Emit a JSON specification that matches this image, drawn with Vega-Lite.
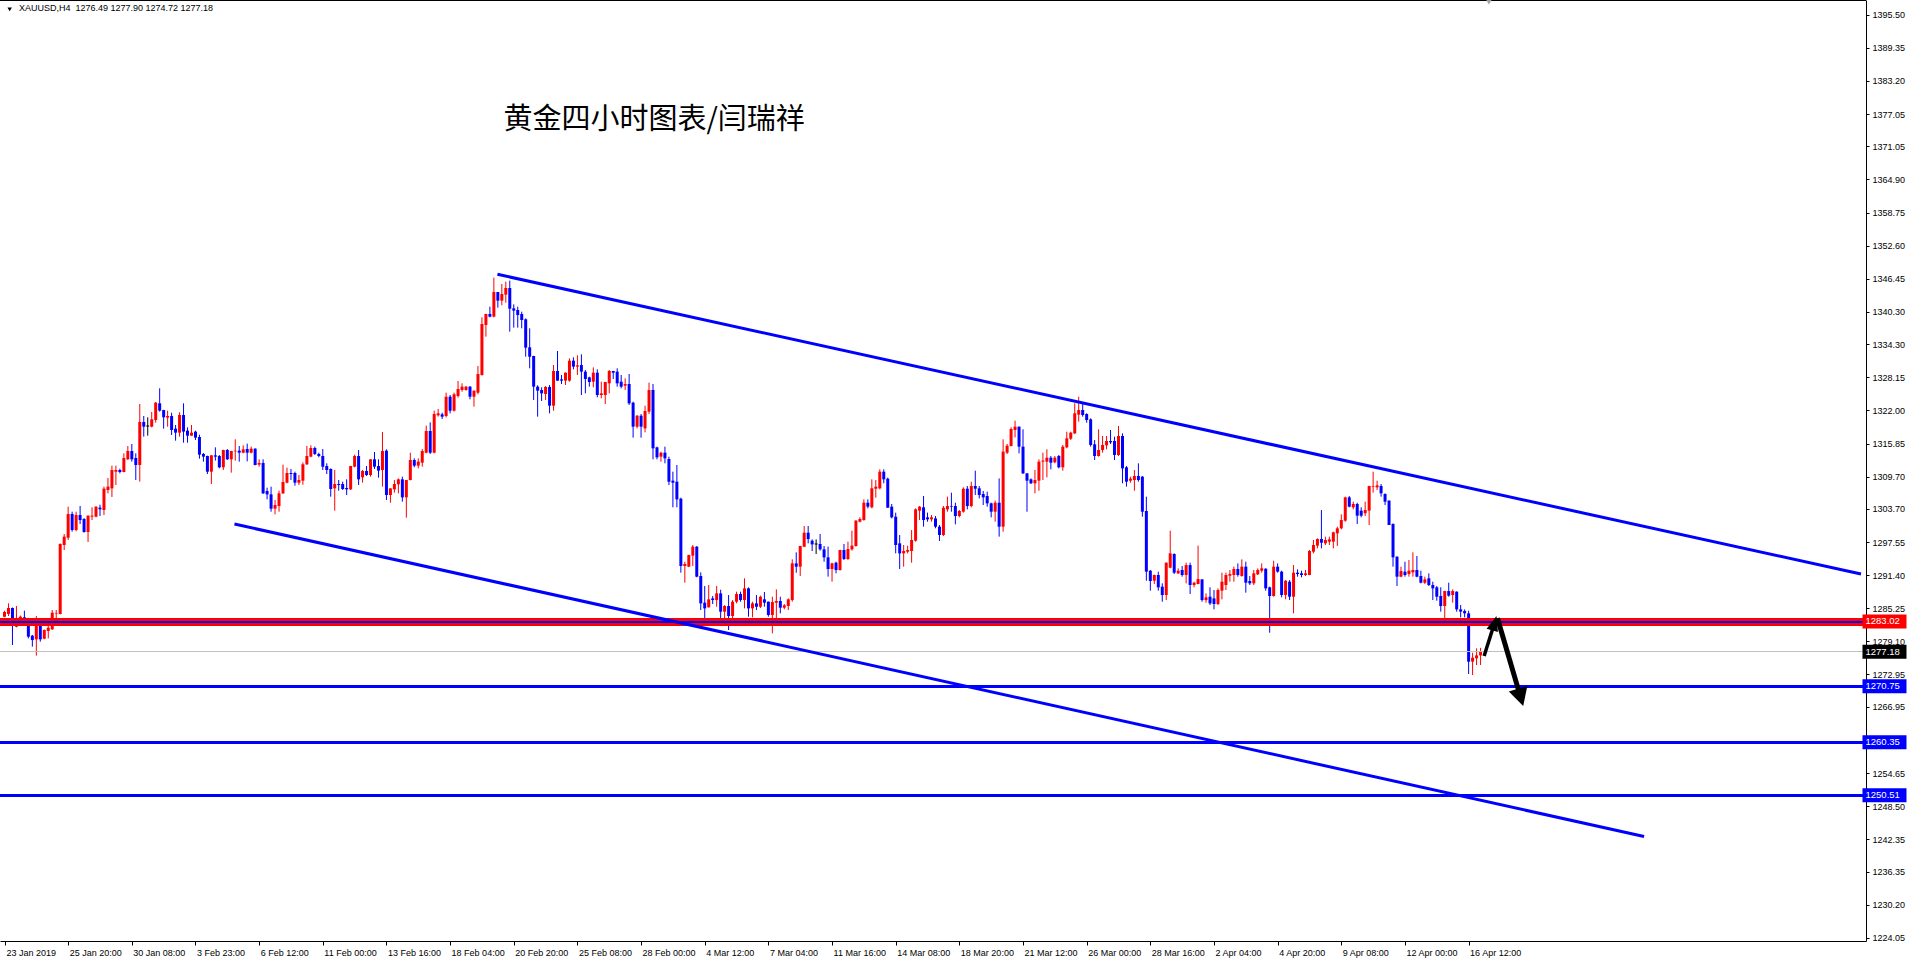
{
"$schema":"https://vega.github.io/schema/vega-lite/v6.json",
"width":1866,"height":941,
"autosize":{"type":"none"},
"padding":{"left":0,"top":0,"right":48,"bottom":20},
"background":"white",
"config":{"view":{"stroke":null},"axis":{"grid":false,"labelOverlap":false,"labelFont":"Liberation Sans","labelFontSize":9,"labelColor":"#000000","tickColor":"#000000","domainColor":"#000000"}},
"datasets":{"candles":[
{"k":-1,"o":1283.69,"h":1284.8,"l":1283.6,"c":1284.56},
{"k":0,"o":1284.19,"h":1286.17,"l":1283.81,"c":1285.3},
{"k":1,"o":1285.3,"h":1285.4,"l":1278.43,"c":1281.96},
{"k":2,"o":1281.83,"h":1285.67,"l":1281.71,"c":1283.38},
{"k":3,"o":1282.95,"h":1283.9,"l":1282.8,"c":1283.69},
{"k":4,"o":1283.57,"h":1284.8,"l":1282.45,"c":1283.19},
{"k":5,"o":1282.45,"h":1282.5,"l":1279.66,"c":1279.97},
{"k":6,"o":1280.16,"h":1280.3,"l":1278.12,"c":1279.35},
{"k":7,"o":1279.48,"h":1283.81,"l":1276.45,"c":1282.45},
{"k":8,"o":1281.96,"h":1282.1,"l":1279.05,"c":1279.48},
{"k":9,"o":1279.6,"h":1281.3,"l":1279.5,"c":1281.22},
{"k":10,"o":1281.03,"h":1282.45,"l":1279.66,"c":1281.65},
{"k":11,"o":1281.34,"h":1284.93,"l":1281.22,"c":1284.43},
{"k":12,"o":1284.2,"h":1284.93,"l":1283.19,"c":1284.3},
{"k":13,"o":1284.19,"h":1297.3,"l":1284.1,"c":1297.19},
{"k":14,"o":1297.0,"h":1299.05,"l":1296.07,"c":1298.55},
{"k":15,"o":1298.36,"h":1304.12,"l":1297.93,"c":1302.76},
{"k":16,"o":1302.76,"h":1303.19,"l":1299.48,"c":1299.79},
{"k":17,"o":1299.79,"h":1303.19,"l":1299.54,"c":1302.57},
{"k":18,"o":1302.57,"h":1304.25,"l":1300.9,"c":1301.65},
{"k":19,"o":1301.83,"h":1302.0,"l":1299.3,"c":1299.42},
{"k":20,"o":1299.42,"h":1302.5,"l":1297.56,"c":1302.45},
{"k":21,"o":1302.27,"h":1304.0,"l":1301.65,"c":1302.45},
{"k":22,"o":1302.27,"h":1304.2,"l":1302.14,"c":1304.12},
{"k":23,"o":1303.94,"h":1304.49,"l":1302.39,"c":1303.63},
{"k":24,"o":1303.5,"h":1307.84,"l":1302.57,"c":1307.47},
{"k":25,"o":1307.22,"h":1309.45,"l":1306.6,"c":1307.84},
{"k":26,"o":1307.53,"h":1311.74,"l":1305.92,"c":1310.93},
{"k":27,"o":1310.62,"h":1311.74,"l":1308.15,"c":1310.93},
{"k":28,"o":1310.93,"h":1311.18,"l":1310.31,"c":1310.56},
{"k":29,"o":1310.56,"h":1314.03,"l":1310.5,"c":1313.16},
{"k":30,"o":1312.92,"h":1315.39,"l":1312.79,"c":1314.46},
{"k":31,"o":1314.46,"h":1315.76,"l":1312.48,"c":1312.92},
{"k":32,"o":1313.16,"h":1314.03,"l":1309.08,"c":1311.86},
{"k":33,"o":1311.86,"h":1323.19,"l":1308.77,"c":1319.85},
{"k":34,"o":1319.85,"h":1320.96,"l":1317.13,"c":1318.98},
{"k":35,"o":1319.1,"h":1320.72,"l":1317.31,"c":1319.1},
{"k":36,"o":1318.98,"h":1321.71,"l":1318.86,"c":1320.35},
{"k":37,"o":1320.22,"h":1323.57,"l":1319.73,"c":1323.44},
{"k":38,"o":1323.32,"h":1326.1,"l":1321.77,"c":1321.96},
{"k":39,"o":1322.08,"h":1322.1,"l":1318.61,"c":1320.72},
{"k":40,"o":1320.66,"h":1321.96,"l":1318.98,"c":1320.96},
{"k":41,"o":1320.96,"h":1321.58,"l":1317.44,"c":1318.36},
{"k":42,"o":1318.61,"h":1319.29,"l":1316.38,"c":1317.87},
{"k":43,"o":1317.87,"h":1321.65,"l":1317.13,"c":1321.15},
{"k":44,"o":1321.15,"h":1323.32,"l":1316.01,"c":1318.06},
{"k":45,"o":1318.24,"h":1318.86,"l":1316.01,"c":1317.31},
{"k":46,"o":1317.31,"h":1319.29,"l":1317.3,"c":1317.87},
{"k":47,"o":1318.06,"h":1318.24,"l":1316.51,"c":1316.94},
{"k":48,"o":1317.06,"h":1317.5,"l":1313.04,"c":1313.78},
{"k":49,"o":1313.91,"h":1314.09,"l":1312.48,"c":1313.41},
{"k":50,"o":1313.53,"h":1313.6,"l":1310.19,"c":1310.62},
{"k":51,"o":1310.62,"h":1313.7,"l":1308.33,"c":1313.66},
{"k":52,"o":1313.66,"h":1315.14,"l":1312.67,"c":1313.41},
{"k":53,"o":1313.53,"h":1313.72,"l":1311.24,"c":1311.43},
{"k":54,"o":1311.43,"h":1314.7,"l":1310.93,"c":1314.65},
{"k":55,"o":1314.65,"h":1314.83,"l":1312.79,"c":1312.92},
{"k":56,"o":1312.92,"h":1314.5,"l":1310.44,"c":1314.46},
{"k":57,"o":1314.4,"h":1316.63,"l":1312.67,"c":1314.52},
{"k":58,"o":1314.52,"h":1315.39,"l":1312.48,"c":1314.15},
{"k":59,"o":1314.15,"h":1315.52,"l":1314.03,"c":1314.77},
{"k":60,"o":1314.83,"h":1315.83,"l":1312.54,"c":1314.15},
{"k":61,"o":1314.15,"h":1315.27,"l":1314.03,"c":1314.9},
{"k":62,"o":1314.9,"h":1314.95,"l":1311.8,"c":1311.86},
{"k":63,"o":1311.93,"h":1312.92,"l":1311.55,"c":1312.24},
{"k":64,"o":1312.24,"h":1312.92,"l":1306.48,"c":1306.6},
{"k":65,"o":1307.03,"h":1307.65,"l":1305.49,"c":1306.41},
{"k":66,"o":1306.41,"h":1307.84,"l":1303.19,"c":1303.75},
{"k":67,"o":1303.75,"h":1305.36,"l":1302.7,"c":1304.43},
{"k":68,"o":1304.25,"h":1307.09,"l":1303.19,"c":1306.6},
{"k":69,"o":1306.6,"h":1311.93,"l":1306.48,"c":1308.71},
{"k":70,"o":1308.58,"h":1311.37,"l":1308.46,"c":1310.38},
{"k":71,"o":1310.38,"h":1311.12,"l":1309.08,"c":1310.19},
{"k":72,"o":1310.38,"h":1310.62,"l":1308.02,"c":1308.58},
{"k":73,"o":1308.58,"h":1310.0,"l":1308.15,"c":1309.08},
{"k":74,"o":1308.95,"h":1312.36,"l":1308.21,"c":1311.99},
{"k":75,"o":1311.99,"h":1315.39,"l":1311.86,"c":1313.53},
{"k":76,"o":1313.41,"h":1315.52,"l":1313.29,"c":1315.02},
{"k":77,"o":1315.02,"h":1315.27,"l":1313.72,"c":1313.91},
{"k":78,"o":1313.91,"h":1314.15,"l":1313.29,"c":1313.53},
{"k":79,"o":1313.53,"h":1314.83,"l":1310.93,"c":1311.55},
{"k":80,"o":1311.68,"h":1312.17,"l":1310.19,"c":1310.93},
{"k":81,"o":1311.12,"h":1311.24,"l":1305.98,"c":1307.4},
{"k":82,"o":1307.53,"h":1310.93,"l":1303.38,"c":1308.33},
{"k":83,"o":1308.33,"h":1309.08,"l":1307.09,"c":1308.15},
{"k":84,"o":1308.33,"h":1308.77,"l":1307.22,"c":1307.4},
{"k":85,"o":1307.59,"h":1309.2,"l":1306.29,"c":1307.34},
{"k":86,"o":1307.34,"h":1311.7,"l":1307.22,"c":1311.68},
{"k":87,"o":1311.55,"h":1313.78,"l":1311.43,"c":1313.53},
{"k":88,"o":1313.53,"h":1314.65,"l":1308.15,"c":1309.2},
{"k":89,"o":1309.57,"h":1310.93,"l":1308.58,"c":1310.75},
{"k":90,"o":1310.75,"h":1311.68,"l":1309.82,"c":1310.0},
{"k":91,"o":1310.0,"h":1312.95,"l":1309.7,"c":1312.92},
{"k":92,"o":1312.92,"h":1314.28,"l":1311.12,"c":1311.55},
{"k":93,"o":1311.68,"h":1312.92,"l":1309.51,"c":1310.81},
{"k":94,"o":1310.93,"h":1317.99,"l":1307.84,"c":1314.46},
{"k":95,"o":1314.52,"h":1314.77,"l":1305.36,"c":1306.29},
{"k":96,"o":1306.29,"h":1307.52,"l":1304.86,"c":1307.52},
{"k":97,"o":1307.34,"h":1309.07,"l":1306.72,"c":1308.33},
{"k":98,"o":1308.27,"h":1309.38,"l":1306.6,"c":1309.2},
{"k":99,"o":1309.2,"h":1309.69,"l":1305.05,"c":1305.85},
{"k":100,"o":1305.85,"h":1309.1,"l":1302.08,"c":1309.07},
{"k":101,"o":1309.07,"h":1314.15,"l":1309.0,"c":1312.79},
{"k":102,"o":1312.79,"h":1313.1,"l":1311.43,"c":1311.74},
{"k":103,"o":1311.74,"h":1313.1,"l":1311.24,"c":1312.48},
{"k":104,"o":1312.29,"h":1314.83,"l":1311.55,"c":1314.46},
{"k":105,"o":1314.15,"h":1319.17,"l":1314.03,"c":1318.18},
{"k":106,"o":1318.18,"h":1319.78,"l":1313.9,"c":1314.15},
{"k":107,"o":1314.15,"h":1321.95,"l":1314.03,"c":1321.33},
{"k":108,"o":1321.09,"h":1322.26,"l":1320.84,"c":1321.46},
{"k":109,"o":1321.27,"h":1321.58,"l":1320.4,"c":1320.84},
{"k":110,"o":1320.96,"h":1325.3,"l":1320.71,"c":1324.55},
{"k":111,"o":1324.55,"h":1324.86,"l":1321.46,"c":1321.95},
{"k":112,"o":1321.95,"h":1325.3,"l":1321.77,"c":1324.99},
{"k":113,"o":1324.68,"h":1327.46,"l":1324.37,"c":1325.98},
{"k":114,"o":1325.79,"h":1327.03,"l":1325.48,"c":1326.41},
{"k":115,"o":1325.79,"h":1326.53,"l":1325.67,"c":1326.41},
{"k":116,"o":1326.41,"h":1326.53,"l":1324.06,"c":1324.55},
{"k":117,"o":1324.55,"h":1325.7,"l":1322.7,"c":1325.67},
{"k":118,"o":1325.3,"h":1330.25,"l":1324.99,"c":1328.76},
{"k":119,"o":1328.58,"h":1339.29,"l":1328.45,"c":1338.05},
{"k":120,"o":1337.87,"h":1339.95,"l":1335.7,"c":1339.91},
{"k":121,"o":1339.91,"h":1341.27,"l":1339.29,"c":1339.41},
{"k":122,"o":1339.41,"h":1346.66,"l":1339.29,"c":1343.99},
{"k":123,"o":1343.99,"h":1344.0,"l":1341.09,"c":1342.39},
{"k":124,"o":1342.39,"h":1345.48,"l":1341.52,"c":1343.62},
{"k":125,"o":1343.5,"h":1345.92,"l":1342.01,"c":1344.74},
{"k":126,"o":1344.74,"h":1346.1,"l":1336.63,"c":1340.9},
{"k":127,"o":1340.96,"h":1341.7,"l":1337.37,"c":1340.53},
{"k":128,"o":1340.65,"h":1341.27,"l":1337.37,"c":1339.72},
{"k":129,"o":1339.91,"h":1340.34,"l":1337.25,"c":1338.79},
{"k":130,"o":1338.92,"h":1339.1,"l":1331.98,"c":1333.66},
{"k":131,"o":1333.72,"h":1337.25,"l":1329.82,"c":1331.98},
{"k":132,"o":1332.11,"h":1332.15,"l":1323.93,"c":1326.41},
{"k":133,"o":1326.41,"h":1326.66,"l":1320.84,"c":1325.67},
{"k":134,"o":1325.79,"h":1326.29,"l":1323.75,"c":1325.17},
{"k":135,"o":1325.05,"h":1326.53,"l":1323.93,"c":1326.35},
{"k":136,"o":1326.35,"h":1326.72,"l":1321.46,"c":1322.88},
{"k":137,"o":1322.88,"h":1330.43,"l":1321.95,"c":1329.32},
{"k":138,"o":1329.32,"h":1333.04,"l":1327.5,"c":1327.53},
{"k":139,"o":1327.77,"h":1328.58,"l":1326.91,"c":1327.53},
{"k":140,"o":1327.53,"h":1329.05,"l":1326.72,"c":1329.01},
{"k":141,"o":1327.53,"h":1331.67,"l":1327.34,"c":1331.24},
{"k":142,"o":1331.24,"h":1331.86,"l":1329.63,"c":1330.13},
{"k":143,"o":1330.13,"h":1332.23,"l":1328.58,"c":1330.37},
{"k":144,"o":1330.43,"h":1332.42,"l":1324.86,"c":1329.2},
{"k":145,"o":1329.2,"h":1329.51,"l":1325.17,"c":1327.83},
{"k":146,"o":1328.14,"h":1328.27,"l":1326.41,"c":1327.28},
{"k":147,"o":1327.34,"h":1330.0,"l":1326.29,"c":1329.01},
{"k":148,"o":1329.01,"h":1329.63,"l":1324.43,"c":1324.86},
{"k":149,"o":1324.86,"h":1327.34,"l":1324.24,"c":1325.17},
{"k":150,"o":1324.86,"h":1327.3,"l":1323.19,"c":1327.28},
{"k":151,"o":1327.03,"h":1329.51,"l":1325.17,"c":1329.32},
{"k":152,"o":1329.32,"h":1329.35,"l":1327.83,"c":1329.01},
{"k":153,"o":1329.2,"h":1329.82,"l":1326.41,"c":1327.03},
{"k":154,"o":1327.34,"h":1328.58,"l":1326.1,"c":1326.41},
{"k":155,"o":1326.6,"h":1327.96,"l":1325.79,"c":1326.91},
{"k":156,"o":1326.91,"h":1328.76,"l":1323.01,"c":1323.31},
{"k":157,"o":1323.44,"h":1323.62,"l":1316.94,"c":1318.98},
{"k":158,"o":1318.98,"h":1321.15,"l":1318.67,"c":1321.02},
{"k":159,"o":1321.02,"h":1321.33,"l":1316.94,"c":1318.98},
{"k":160,"o":1318.67,"h":1322.88,"l":1317.93,"c":1321.89},
{"k":161,"o":1321.77,"h":1327.16,"l":1321.33,"c":1325.79},
{"k":162,"o":1325.79,"h":1326.91,"l":1312.91,"c":1314.96},
{"k":163,"o":1315.14,"h":1315.27,"l":1312.91,"c":1313.28},
{"k":164,"o":1313.41,"h":1314.34,"l":1312.48,"c":1314.15},
{"k":165,"o":1314.15,"h":1315.27,"l":1312.17,"c":1313.1},
{"k":166,"o":1312.97,"h":1313.41,"l":1308.14,"c":1308.76},
{"k":167,"o":1308.95,"h":1310.62,"l":1304.0,"c":1308.58},
{"k":168,"o":1308.76,"h":1311.86,"l":1304.0,"c":1305.48},
{"k":169,"o":1305.61,"h":1305.79,"l":1291.86,"c":1293.1},
{"k":170,"o":1293.1,"h":1293.9,"l":1290.0,"c":1293.47},
{"k":171,"o":1292.97,"h":1295.2,"l":1292.9,"c":1295.14},
{"k":172,"o":1295.02,"h":1297.0,"l":1293.1,"c":1296.69},
{"k":173,"o":1296.69,"h":1296.81,"l":1291.0,"c":1291.12},
{"k":174,"o":1291.24,"h":1291.92,"l":1284.92,"c":1286.16},
{"k":175,"o":1286.29,"h":1289.38,"l":1283.07,"c":1285.23},
{"k":176,"o":1285.42,"h":1289.57,"l":1285.4,"c":1286.91},
{"k":177,"o":1287.09,"h":1287.53,"l":1286.04,"c":1286.78},
{"k":178,"o":1286.78,"h":1289.38,"l":1285.54,"c":1288.02},
{"k":179,"o":1288.02,"h":1288.7,"l":1283.07,"c":1284.62},
{"k":180,"o":1284.62,"h":1285.85,"l":1283.07,"c":1285.67},
{"k":181,"o":1285.67,"h":1287.71,"l":1281.21,"c":1283.81},
{"k":182,"o":1283.81,"h":1286.78,"l":1282.76,"c":1286.47},
{"k":183,"o":1286.47,"h":1288.33,"l":1286.16,"c":1287.9},
{"k":184,"o":1287.9,"h":1288.33,"l":1286.47,"c":1286.78},
{"k":185,"o":1286.78,"h":1290.81,"l":1285.23,"c":1288.95},
{"k":186,"o":1288.95,"h":1289.13,"l":1283.69,"c":1285.23},
{"k":187,"o":1285.23,"h":1286.47,"l":1283.56,"c":1286.16},
{"k":188,"o":1286.16,"h":1287.71,"l":1284.92,"c":1285.54},
{"k":189,"o":1285.54,"h":1287.6,"l":1285.3,"c":1287.4},
{"k":190,"o":1286.91,"h":1288.27,"l":1285.54,"c":1286.29},
{"k":191,"o":1286.47,"h":1286.5,"l":1283.69,"c":1284.0},
{"k":192,"o":1284.0,"h":1287.4,"l":1280.59,"c":1286.41},
{"k":193,"o":1286.29,"h":1288.76,"l":1282.45,"c":1286.6},
{"k":194,"o":1286.6,"h":1287.4,"l":1284.31,"c":1285.36},
{"k":195,"o":1285.36,"h":1286.04,"l":1285.05,"c":1285.79},
{"k":196,"o":1285.67,"h":1287.09,"l":1284.93,"c":1286.91},
{"k":197,"o":1286.78,"h":1294.34,"l":1286.47,"c":1293.59},
{"k":198,"o":1293.59,"h":1295.64,"l":1291.86,"c":1292.98},
{"k":199,"o":1292.98,"h":1296.85,"l":1291.24,"c":1296.82},
{"k":200,"o":1296.69,"h":1300.53,"l":1296.6,"c":1299.29},
{"k":201,"o":1299.29,"h":1300.53,"l":1297.31,"c":1298.11},
{"k":202,"o":1297.8,"h":1298.05,"l":1295.89,"c":1297.12},
{"k":203,"o":1297.19,"h":1298.05,"l":1295.33,"c":1297.19},
{"k":204,"o":1297.19,"h":1299.04,"l":1295.95,"c":1296.2},
{"k":205,"o":1296.2,"h":1296.82,"l":1293.9,"c":1294.71},
{"k":206,"o":1294.71,"h":1296.69,"l":1291.12,"c":1292.54},
{"k":207,"o":1292.54,"h":1293.72,"l":1290.19,"c":1293.59},
{"k":208,"o":1293.72,"h":1293.9,"l":1291.74,"c":1292.36},
{"k":209,"o":1292.36,"h":1296.1,"l":1292.23,"c":1296.07},
{"k":210,"o":1296.07,"h":1297.19,"l":1294.21,"c":1294.4},
{"k":211,"o":1294.4,"h":1297.62,"l":1294.21,"c":1296.26},
{"k":212,"o":1296.2,"h":1299.66,"l":1295.95,"c":1296.88},
{"k":213,"o":1296.82,"h":1301.64,"l":1296.69,"c":1301.52},
{"k":214,"o":1301.33,"h":1302.14,"l":1301.21,"c":1301.83},
{"k":215,"o":1301.64,"h":1305.48,"l":1301.52,"c":1304.86},
{"k":216,"o":1304.86,"h":1305.48,"l":1303.81,"c":1304.12},
{"k":217,"o":1304.0,"h":1309.2,"l":1303.81,"c":1307.53},
{"k":218,"o":1307.46,"h":1309.07,"l":1305.79,"c":1307.84},
{"k":219,"o":1307.53,"h":1311.06,"l":1307.34,"c":1310.62},
{"k":220,"o":1310.62,"h":1311.06,"l":1308.46,"c":1309.2},
{"k":221,"o":1309.32,"h":1309.51,"l":1303.9,"c":1303.93},
{"k":222,"o":1304.12,"h":1304.62,"l":1301.95,"c":1302.14},
{"k":223,"o":1302.26,"h":1303.01,"l":1295.45,"c":1297.0},
{"k":224,"o":1297.31,"h":1298.86,"l":1292.54,"c":1295.45},
{"k":225,"o":1295.45,"h":1297.0,"l":1292.98,"c":1295.89},
{"k":226,"o":1295.76,"h":1296.88,"l":1295.45,"c":1296.07},
{"k":227,"o":1295.89,"h":1299.79,"l":1293.72,"c":1297.93},
{"k":228,"o":1297.8,"h":1303.81,"l":1297.62,"c":1303.62},
{"k":229,"o":1303.38,"h":1304.24,"l":1301.64,"c":1304.12},
{"k":230,"o":1304.0,"h":1306.1,"l":1300.41,"c":1301.64},
{"k":231,"o":1302.14,"h":1303.01,"l":1301.33,"c":1301.77},
{"k":232,"o":1301.77,"h":1302.57,"l":1301.33,"c":1302.14},
{"k":233,"o":1301.95,"h":1302.39,"l":1300.1,"c":1300.41},
{"k":234,"o":1300.41,"h":1300.72,"l":1297.74,"c":1298.86},
{"k":235,"o":1298.86,"h":1304.24,"l":1298.67,"c":1303.93},
{"k":236,"o":1303.62,"h":1305.98,"l":1303.19,"c":1304.24},
{"k":237,"o":1304.24,"h":1306.72,"l":1303.19,"c":1304.12},
{"k":238,"o":1304.24,"h":1304.86,"l":1300.84,"c":1302.39},
{"k":239,"o":1302.39,"h":1303.5,"l":1302.14,"c":1303.32},
{"k":240,"o":1303.19,"h":1307.71,"l":1303.01,"c":1307.46},
{"k":241,"o":1307.46,"h":1307.96,"l":1303.62,"c":1304.24},
{"k":242,"o":1304.24,"h":1308.76,"l":1304.0,"c":1307.96},
{"k":243,"o":1307.96,"h":1310.81,"l":1306.29,"c":1307.46},
{"k":244,"o":1307.53,"h":1307.96,"l":1305.67,"c":1306.29},
{"k":245,"o":1306.47,"h":1307.03,"l":1304.43,"c":1305.85},
{"k":246,"o":1306.1,"h":1306.91,"l":1304.12,"c":1304.74},
{"k":247,"o":1304.74,"h":1304.86,"l":1302.14,"c":1303.19},
{"k":248,"o":1303.19,"h":1305.24,"l":1301.33,"c":1304.86},
{"k":249,"o":1304.86,"h":1309.38,"l":1298.55,"c":1300.41},
{"k":250,"o":1300.41,"h":1316.63,"l":1299.48,"c":1314.34},
{"k":251,"o":1314.15,"h":1315.76,"l":1313.9,"c":1315.45},
{"k":252,"o":1315.39,"h":1318.86,"l":1315.3,"c":1318.55},
{"k":253,"o":1318.36,"h":1320.1,"l":1317.0,"c":1318.98},
{"k":254,"o":1318.98,"h":1319.0,"l":1314.03,"c":1315.27},
{"k":255,"o":1315.27,"h":1318.49,"l":1310.19,"c":1310.31},
{"k":256,"o":1310.31,"h":1310.35,"l":1303.19,"c":1308.95},
{"k":257,"o":1309.2,"h":1309.38,"l":1308.33,"c":1308.46},
{"k":258,"o":1308.46,"h":1310.93,"l":1306.6,"c":1309.07},
{"k":259,"o":1308.95,"h":1312.91,"l":1307.09,"c":1312.48},
{"k":260,"o":1312.48,"h":1314.15,"l":1309.07,"c":1312.67},
{"k":261,"o":1312.48,"h":1314.77,"l":1309.57,"c":1313.22},
{"k":262,"o":1313.22,"h":1313.53,"l":1311.06,"c":1312.29},
{"k":263,"o":1312.36,"h":1313.53,"l":1312.17,"c":1313.22},
{"k":264,"o":1313.53,"h":1313.72,"l":1311.24,"c":1311.43},
{"k":265,"o":1311.43,"h":1315.58,"l":1310.81,"c":1315.27},
{"k":266,"o":1315.14,"h":1318.05,"l":1314.96,"c":1316.81},
{"k":267,"o":1316.75,"h":1318.05,"l":1316.5,"c":1317.87},
{"k":268,"o":1317.74,"h":1323.32,"l":1317.62,"c":1321.46},
{"k":269,"o":1321.21,"h":1324.55,"l":1319.91,"c":1322.08},
{"k":270,"o":1322.08,"h":1323.44,"l":1320.84,"c":1321.15},
{"k":271,"o":1321.33,"h":1321.46,"l":1319.72,"c":1320.22},
{"k":272,"o":1320.34,"h":1320.53,"l":1315.27,"c":1315.58},
{"k":273,"o":1315.7,"h":1316.5,"l":1312.79,"c":1313.53},
{"k":274,"o":1313.53,"h":1318.49,"l":1313.41,"c":1314.65},
{"k":275,"o":1314.65,"h":1317.25,"l":1314.15,"c":1315.58},
{"k":276,"o":1315.51,"h":1317.25,"l":1314.77,"c":1316.32},
{"k":277,"o":1316.32,"h":1318.36,"l":1315.76,"c":1316.07},
{"k":278,"o":1316.32,"h":1317.12,"l":1312.79,"c":1313.72},
{"k":279,"o":1313.72,"h":1319.1,"l":1313.53,"c":1317.25},
{"k":280,"o":1317.25,"h":1317.74,"l":1308.46,"c":1311.24},
{"k":281,"o":1311.43,"h":1311.67,"l":1307.84,"c":1308.76},
{"k":282,"o":1308.95,"h":1309.69,"l":1308.58,"c":1309.32},
{"k":283,"o":1309.07,"h":1310.93,"l":1307.09,"c":1309.82},
{"k":284,"o":1309.82,"h":1312.17,"l":1308.76,"c":1309.07},
{"k":285,"o":1309.69,"h":1309.82,"l":1302.26,"c":1303.19},
{"k":286,"o":1303.32,"h":1305.98,"l":1290.37,"c":1292.05},
{"k":287,"o":1292.23,"h":1292.36,"l":1288.52,"c":1290.31},
{"k":288,"o":1290.37,"h":1291.5,"l":1289.76,"c":1291.43},
{"k":289,"o":1291.43,"h":1292.05,"l":1288.52,"c":1289.14},
{"k":290,"o":1289.26,"h":1289.88,"l":1286.47,"c":1287.71},
{"k":291,"o":1287.71,"h":1293.75,"l":1286.78,"c":1293.72},
{"k":292,"o":1292.79,"h":1299.66,"l":1292.67,"c":1295.45},
{"k":293,"o":1295.33,"h":1295.45,"l":1291.61,"c":1291.86},
{"k":294,"o":1291.74,"h":1292.67,"l":1291.61,"c":1292.23},
{"k":295,"o":1292.36,"h":1293.1,"l":1291.12,"c":1291.43},
{"k":296,"o":1291.43,"h":1293.72,"l":1289.88,"c":1293.28},
{"k":297,"o":1293.28,"h":1293.72,"l":1287.9,"c":1289.57},
{"k":298,"o":1289.57,"h":1290.19,"l":1289.14,"c":1290.0},
{"k":299,"o":1289.76,"h":1296.88,"l":1289.7,"c":1290.68},
{"k":300,"o":1290.62,"h":1290.65,"l":1286.47,"c":1286.78},
{"k":301,"o":1286.78,"h":1288.02,"l":1286.29,"c":1287.28},
{"k":302,"o":1287.4,"h":1289.14,"l":1285.85,"c":1286.16},
{"k":303,"o":1287.09,"h":1288.64,"l":1285.05,"c":1286.04},
{"k":304,"o":1286.04,"h":1288.95,"l":1285.85,"c":1288.64},
{"k":305,"o":1288.52,"h":1291.86,"l":1286.91,"c":1290.19},
{"k":306,"o":1289.57,"h":1291.86,"l":1288.64,"c":1291.43},
{"k":307,"o":1291.3,"h":1292.36,"l":1290.19,"c":1291.61},
{"k":308,"o":1291.43,"h":1292.98,"l":1290.19,"c":1292.54},
{"k":309,"o":1292.54,"h":1293.59,"l":1291.12,"c":1291.43},
{"k":310,"o":1291.24,"h":1294.34,"l":1291.12,"c":1292.98},
{"k":311,"o":1292.98,"h":1293.9,"l":1288.15,"c":1290.0},
{"k":312,"o":1290.31,"h":1291.24,"l":1289.57,"c":1289.88},
{"k":313,"o":1289.88,"h":1292.36,"l":1289.57,"c":1291.74},
{"k":314,"o":1291.55,"h":1292.67,"l":1291.43,"c":1292.36},
{"k":315,"o":1292.23,"h":1293.59,"l":1291.86,"c":1292.67},
{"k":316,"o":1292.6,"h":1292.67,"l":1288.52,"c":1288.95},
{"k":317,"o":1289.14,"h":1289.26,"l":1280.71,"c":1287.53},
{"k":318,"o":1287.53,"h":1294.09,"l":1287.4,"c":1292.98},
{"k":319,"o":1292.98,"h":1293.59,"l":1291.86,"c":1292.05},
{"k":320,"o":1292.05,"h":1292.23,"l":1287.28,"c":1287.71},
{"k":321,"o":1287.71,"h":1290.5,"l":1286.91,"c":1290.37},
{"k":322,"o":1290.19,"h":1290.5,"l":1286.78,"c":1287.4},
{"k":323,"o":1287.4,"h":1293.28,"l":1284.31,"c":1291.86},
{"k":324,"o":1291.86,"h":1292.48,"l":1291.12,"c":1291.61},
{"k":325,"o":1291.74,"h":1292.23,"l":1291.0,"c":1291.43},
{"k":326,"o":1291.43,"h":1292.36,"l":1291.24,"c":1291.74},
{"k":327,"o":1291.43,"h":1296.07,"l":1291.4,"c":1295.89},
{"k":328,"o":1295.76,"h":1297.93,"l":1295.45,"c":1297.0},
{"k":329,"o":1296.88,"h":1298.24,"l":1296.38,"c":1298.11},
{"k":330,"o":1298.11,"h":1303.5,"l":1296.38,"c":1297.43},
{"k":331,"o":1297.31,"h":1298.55,"l":1297.0,"c":1297.93},
{"k":332,"o":1297.62,"h":1298.55,"l":1297.0,"c":1298.05},
{"k":333,"o":1297.62,"h":1299.48,"l":1296.38,"c":1299.36},
{"k":334,"o":1299.17,"h":1300.41,"l":1296.82,"c":1300.1},
{"k":335,"o":1300.1,"h":1302.7,"l":1299.91,"c":1301.64},
{"k":336,"o":1301.52,"h":1305.98,"l":1301.33,"c":1305.85},
{"k":337,"o":1305.85,"h":1306.1,"l":1304.0,"c":1304.12},
{"k":338,"o":1304.0,"h":1305.05,"l":1303.62,"c":1304.62},
{"k":339,"o":1304.62,"h":1304.86,"l":1300.9,"c":1302.45},
{"k":340,"o":1303.38,"h":1304.0,"l":1302.14,"c":1302.45},
{"k":341,"o":1302.89,"h":1305.05,"l":1302.39,"c":1303.5},
{"k":342,"o":1303.38,"h":1308.0,"l":1300.72,"c":1307.96},
{"k":343,"o":1307.84,"h":1310.62,"l":1306.72,"c":1307.96},
{"k":344,"o":1307.71,"h":1308.95,"l":1307.22,"c":1308.08},
{"k":345,"o":1307.96,"h":1308.33,"l":1305.98,"c":1306.6},
{"k":346,"o":1306.47,"h":1306.6,"l":1304.43,"c":1305.05},
{"k":347,"o":1305.24,"h":1305.3,"l":1300.7,"c":1300.72},
{"k":348,"o":1300.9,"h":1301.02,"l":1292.98,"c":1294.71},
{"k":349,"o":1294.83,"h":1294.9,"l":1289.38,"c":1291.12},
{"k":350,"o":1291.12,"h":1292.98,"l":1291.0,"c":1292.17},
{"k":351,"o":1292.05,"h":1293.9,"l":1291.12,"c":1291.43},
{"k":352,"o":1291.61,"h":1294.21,"l":1291.12,"c":1292.23},
{"k":353,"o":1291.92,"h":1295.64,"l":1291.12,"c":1292.36},
{"k":354,"o":1292.36,"h":1294.96,"l":1291.0,"c":1291.12},
{"k":355,"o":1291.24,"h":1292.23,"l":1289.88,"c":1290.0},
{"k":356,"o":1290.0,"h":1291.12,"l":1289.76,"c":1290.62},
{"k":357,"o":1290.81,"h":1291.74,"l":1289.38,"c":1289.57},
{"k":358,"o":1289.57,"h":1290.19,"l":1286.78,"c":1288.95},
{"k":359,"o":1289.14,"h":1289.38,"l":1286.66,"c":1287.4},
{"k":360,"o":1287.53,"h":1289.14,"l":1284.62,"c":1285.67},
{"k":361,"o":1285.67,"h":1288.5,"l":1282.57,"c":1288.45},
{"k":362,"o":1288.45,"h":1290.0,"l":1287.4,"c":1287.59},
{"k":363,"o":1287.71,"h":1288.76,"l":1286.29,"c":1288.45},
{"k":364,"o":1288.33,"h":1288.4,"l":1284.62,"c":1285.05},
{"k":365,"o":1285.05,"h":1285.85,"l":1283.56,"c":1284.62},
{"k":366,"o":1284.74,"h":1285.05,"l":1283.56,"c":1284.31},
{"k":367,"o":1284.31,"h":1284.8,"l":1273.04,"c":1275.33},
{"k":368,"o":1275.33,"h":1276.99,"l":1272.85,"c":1276.07},
{"k":369,"o":1275.95,"h":1277.8,"l":1274.71,"c":1276.5},
{"k":370,"o":1276.49,"h":1277.9,"l":1274.72,"c":1277.18}
]},
"layer":[
{"data":{"name":"candles"},
 "mark":{"type":"rule","strokeWidth":1},
 "encoding":{
  "x":{"field":"k","type":"quantitative","scale":{"domain":[-0.875,465.625],"nice":false,"zero":false},
   "axis":{"orient":"bottom","title":null,"tickCount":500,"values":[-0.875,15,31,47,63,79,95,111,127,143,159,175,191,207,223,239,255,271,287,303,319,335,351,367],
    "labelExpr":"['23 Jan 2019','25 Jan 20:00','30 Jan 08:00','3 Feb 23:00','6 Feb 12:00','11 Feb 00:00','13 Feb 16:00','18 Feb 04:00','20 Feb 20:00','25 Feb 08:00','28 Feb 00:00','4 Mar 12:00','7 Mar 04:00','11 Mar 16:00','14 Mar 08:00','18 Mar 20:00','21 Mar 12:00','26 Mar 00:00','28 Mar 16:00','2 Apr 04:00','4 Apr 20:00','9 Apr 08:00','12 Apr 00:00','16 Apr 12:00'][round((datum.value+1)/16)]",
    "labelAlign":"left","labelBaseline":"top","labelPadding":3,"labelOffset":1,"tickSize":4,"labelFlush":false,"labelOverlap":false,"labelBound":false,"grid":false}},
  "y":{"field":"l","type":"quantitative","scale":{"domain":[1223.45,1398.23],"nice":false,"zero":false},
   "axis":{"orient":"right","title":null,"tickCount":500,"values":[1395.5,1389.35,1383.2,1377.05,1371.05,1364.9,1358.75,1352.6,1346.45,1340.3,1334.3,1328.15,1322.0,1315.85,1309.7,1303.7,1297.55,1291.4,1285.25,1279.1,1272.95,1266.95,1254.65,1248.5,1242.35,1236.35,1230.2,1224.05],
    "format":".2f","tickSize":3,"labelPadding":3,"labelFlush":false,"labelOverlap":false,"labelBound":false,"grid":false}},
  "y2":{"field":"h"},
  "color":{"condition":[{"test":"datum.c > datum.o","value":"#ff0000"},{"test":"datum.c < datum.o","value":"#0000ff"}],"value":"#000000"}
 }},
{"data":{"name":"candles"},
 "mark":{"type":"bar","width":3},
 "encoding":{
  "x":{"field":"k","type":"quantitative","axis":{"title":null,"labelOverlap":false}},
  "y":{"field":"o","type":"quantitative","axis":{"title":null,"labelOverlap":false}},
  "y2":{"field":"c"},
  "color":{"condition":[{"test":"datum.c > datum.o","value":"#ff0000"},{"test":"datum.c < datum.o","value":"#0000ff"}],"value":"#000000"}
 }},
{"data":{"name":"candles"},
 "transform":[{"filter":"datum.o == datum.c"}],
 "mark":{"type":"point","shape":"M-1.5,-0.5L1.5,-0.5L1.5,0.5L-1.5,0.5Z","size":4,"filled":true,"opacity":1,"color":"#000000"},
 "encoding":{
  "x":{"field":"k","type":"quantitative","axis":{"title":null,"labelOverlap":false}},
  "y":{"field":"c","type":"quantitative","axis":{"title":null,"labelOverlap":false}}
 }},
{"data":{"values":[{"p":1277.22}]},"mark":{"type":"rule","color":"#c0c0c0","strokeWidth":1},"encoding":{"y":{"field":"p","type":"quantitative","axis":{"title":null,"labelOverlap":false}}}},
{"data":{"values":[{"p":1270.72},{"p":1260.32},{"p":1250.475}]},"mark":{"type":"rule","color":"#0000ff","strokeWidth":3},"encoding":{"y":{"field":"p","type":"quantitative","axis":{"title":null,"labelOverlap":false}}}},
{"data":{"values":[{"p":1282.7}]},"mark":{"type":"rule","color":"#ff0000","strokeWidth":8},"encoding":{"y":{"field":"p","type":"quantitative","axis":{"title":null,"labelOverlap":false}}}},
{"data":{"values":[{"p":1282.7}]},"mark":{"type":"rule","color":"#0000ff","strokeWidth":2},"encoding":{"y":{"field":"p","type":"quantitative","axis":{"title":null,"labelOverlap":false}}}},
{"data":{"values":[{"p":1398.137}]},"mark":{"type":"rule","color":"#000000","strokeWidth":1},"encoding":{"y":{"field":"p","type":"quantitative","axis":{"title":null,"labelOverlap":false}}}},
{"data":{"values":[
  {"line":"upper","k":122.9,"p":1347.28},{"line":"upper","k":465.625,"p":1291.6},
  {"line":"lower","k":56.8,"p":1300.9},{"line":"lower","k":411.1,"p":1242.86}]},
 "mark":{"type":"line","color":"#0000ff","strokeWidth":3},
 "encoding":{
  "x":{"field":"k","type":"quantitative","axis":{"title":null,"labelOverlap":false}},
  "y":{"field":"p","type":"quantitative","axis":{"title":null,"labelOverlap":false}},
  "detail":{"field":"line"}
 }},
{"data":{"values":[{"k":370.9,"p":1276.39},{"k":373.25,"p":1281.9}]},
 "mark":{"type":"line","color":"#000000","strokeWidth":3.5},
 "encoding":{"x":{"field":"k","type":"quantitative","axis":{"title":null,"labelOverlap":false}},"y":{"field":"p","type":"quantitative","axis":{"title":null,"labelOverlap":false}}}},
{"data":{"values":[{"k":374.25,"p":1283.39},{"k":379.8,"p":1269.4}]},
 "mark":{"type":"line","color":"#000000","strokeWidth":5},
 "encoding":{"x":{"field":"k","type":"quantitative","axis":{"title":null,"labelOverlap":false}},"y":{"field":"p","type":"quantitative","axis":{"title":null,"labelOverlap":false}}}},
{"data":{"values":[{"k":373.25,"p":1281.9}]},
 "mark":{"type":"point","shape":"M0,-1L0.55,0.4L-0.55,0.4Z","size":458,"angle":16.3,"filled":true,"opacity":1,"color":"#000000"},
 "encoding":{"x":{"field":"k","type":"quantitative","axis":{"title":null,"labelOverlap":false}},"y":{"field":"p","type":"quantitative","axis":{"title":null,"labelOverlap":false}}}},
{"data":{"values":[{"k":379.8,"p":1269.4}]},
 "mark":{"type":"point","shape":"M0,-1L0.75,0.4L-0.75,0.4Z","size":665,"angle":163.5,"filled":true,"opacity":1,"color":"#000000"},
 "encoding":{"x":{"field":"k","type":"quantitative","axis":{"title":null,"labelOverlap":false}},"y":{"field":"p","type":"quantitative","axis":{"title":null,"labelOverlap":false}}}},
{"data":{"values":[
  {"k":466,"p":1282.8,"t":"1283.02","kind":"resistance"},
  {"k":466,"p":1277.18,"t":"1277.18","kind":"current"},
  {"k":466,"p":1270.75,"t":"1270.75","kind":"support"},
  {"k":466,"p":1260.35,"t":"1260.35","kind":"support"},
  {"k":466,"p":1250.51,"t":"1250.51","kind":"support"}]},
 "mark":{"type":"point","shape":"M0,-0.7L4.4,-0.7L4.4,0.7L0,0.7Z","size":400,"filled":true,"opacity":1},
 "encoding":{
  "x":{"field":"k","type":"quantitative","axis":{"title":null,"labelOverlap":false}},
  "y":{"field":"p","type":"quantitative","axis":{"title":null,"labelOverlap":false}},
  "color":{"field":"kind","type":"nominal","scale":{"domain":["resistance","current","support"],"range":["#ff0000","#000000","#0000ff"]},"legend":null}}},
{"data":{"values":[
  {"k":466,"p":1282.8,"t":"1283.02"},
  {"k":466,"p":1277.18,"t":"1277.18"},
  {"k":466,"p":1270.75,"t":"1270.75"},
  {"k":466,"p":1260.35,"t":"1260.35"},
  {"k":466,"p":1250.51,"t":"1250.51"}]},
 "mark":{"type":"text","align":"left","baseline":"middle","dx":3,"color":"#ffffff","font":"Liberation Sans","fontSize":9.5},
 "encoding":{
  "x":{"field":"k","type":"quantitative","axis":{"title":null,"labelOverlap":false}},
  "y":{"field":"p","type":"quantitative","axis":{"title":null,"labelOverlap":false}},
  "text":{"field":"t"}}},
{"data":{"values":[{"k":124.4,"p":1376.0,"t":"黄金四小时图表/闫瑞祥"}]},
 "mark":{"type":"text","align":"left","baseline":"middle","font":"Noto Sans CJK SC","fontSize":29,"color":"#000000"},
 "encoding":{"x":{"field":"k","type":"quantitative","axis":{"title":null,"labelOverlap":false}},"y":{"field":"p","type":"quantitative","axis":{"title":null,"labelOverlap":false}},"text":{"field":"t"}}},
{"data":{"values":[{"k":2.625,"p":1396.74,"t":"XAUUSD,H4\u00a0 1276.49 1277.90 1274.72 1277.18"}]},
 "mark":{"type":"text","align":"left","baseline":"middle","font":"Liberation Sans","fontSize":9,"color":"#000000"},
 "encoding":{"x":{"field":"k","type":"quantitative","axis":{"title":null,"labelOverlap":false}},"y":{"field":"p","type":"quantitative","axis":{"title":null,"labelOverlap":false}},"text":{"field":"t"}}},
{"data":{"values":[{"k":0.3,"p":1396.5}]},
 "mark":{"type":"point","shape":"triangle-down","size":20,"filled":true,"opacity":1,"color":"#000000"},
 "encoding":{"x":{"field":"k","type":"quantitative","axis":{"title":null,"labelOverlap":false}},"y":{"field":"p","type":"quantitative","axis":{"title":null,"labelOverlap":false}}}},
{"data":{"values":[{"k":372.1,"p":1397.9}]},
 "mark":{"type":"point","shape":"triangle-down","size":40,"filled":true,"opacity":1,"color":"#a0a0a0"},
 "encoding":{"x":{"field":"k","type":"quantitative","axis":{"title":null,"labelOverlap":false}},"y":{"field":"p","type":"quantitative","axis":{"title":null,"labelOverlap":false}}}}
]
}
